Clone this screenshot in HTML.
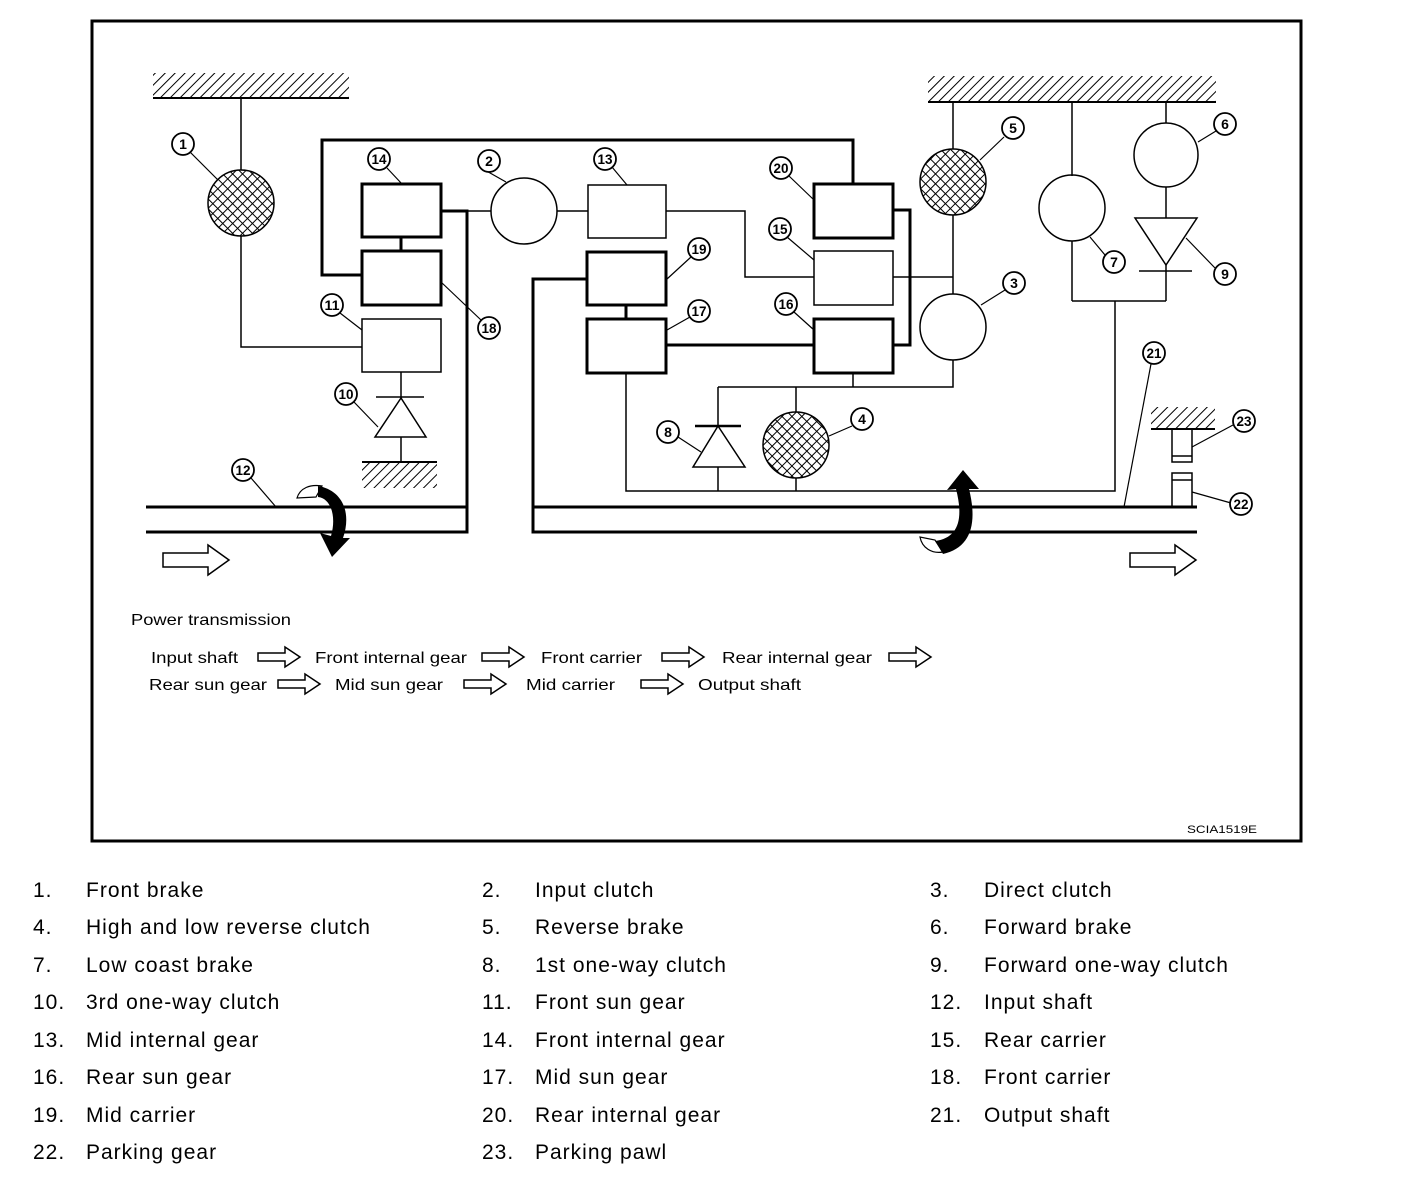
<!DOCTYPE html>
<html><head><meta charset="utf-8"><style>
html,body{margin:0;padding:0;background:#fff;}
svg{display:block;}
.lg{font-family:"Liberation Sans",sans-serif;font-size:21px;fill:#000;letter-spacing:1px;}
.sm{font-family:"Liberation Sans",sans-serif;font-size:16px;fill:#000;}
.n{font-family:"Liberation Sans",sans-serif;font-size:14px;font-weight:bold;fill:#000;text-anchor:middle;}
</style></head><body>
<svg width="1408" height="1204" viewBox="0 0 1408 1204" xmlns="http://www.w3.org/2000/svg">
<defs>
<pattern id="xh" width="7" height="7" patternUnits="userSpaceOnUse" patternTransform="rotate(45)">
<rect width="7" height="7" fill="#fff"/>
<line x1="0" y1="0" x2="0" y2="7" stroke="#000" stroke-width="2"/>
<line x1="0" y1="0" x2="7" y2="0" stroke="#000" stroke-width="2"/>
</pattern>
<pattern id="hh" width="7" height="7" patternUnits="userSpaceOnUse" patternTransform="rotate(45)">
<rect width="7" height="7" fill="#fff"/>
<line x1="0" y1="0" x2="0" y2="7" stroke="#000" stroke-width="2"/>
</pattern>
</defs>
<rect x="92" y="21" width="1209" height="820" fill="none" stroke="#000" stroke-width="3"/>

<g fill="none" stroke="#000" stroke-width="1.5">
<rect x="153" y="73" width="196" height="25" fill="url(#hh)" stroke="none"/>
<line x1="153" y1="98" x2="349" y2="98" stroke-width="2"/>
<rect x="928" y="76" width="288" height="25" fill="url(#hh)" stroke="none"/>
<line x1="928" y1="102" x2="1216" y2="102" stroke-width="2"/>
<rect x="362" y="462" width="75" height="26" fill="url(#hh)" stroke="none"/>
<line x1="362" y1="462" x2="437" y2="462" stroke-width="2"/>
<rect x="1151" y="407" width="64" height="21" fill="url(#hh)" stroke="none"/>
<line x1="1151" y1="429" x2="1215" y2="429" stroke-width="2"/>

<polyline points="241,98 241,170"/>
<polyline points="241,236 241,347 362,347"/>
<circle cx="241" cy="203" r="33" fill="url(#xh)"/>
<rect x="362" y="319" width="79" height="53"/>
<line x1="401" y1="372" x2="401" y2="398"/>
<line x1="376" y1="397" x2="424" y2="397"/>
<polygon points="401,398 375,437 426,437"/>
<line x1="401" y1="437" x2="401" y2="462"/>
<line x1="441" y1="211" x2="491" y2="211"/>
<circle cx="524" cy="211" r="33"/>
<line x1="557" y1="211" x2="588" y2="211"/>
<rect x="588" y="185" width="78" height="53"/>
<polyline points="666,211 745,211 745,277 814,277"/>
<rect x="814" y="251" width="79" height="54"/>
<line x1="893" y1="277" x2="953" y2="277"/>
<line x1="953" y1="102" x2="953" y2="149"/>
<line x1="953" y1="215" x2="953" y2="294"/>
<circle cx="953" cy="182" r="33" fill="url(#xh)"/>
<circle cx="953" cy="327" r="33"/>
<polyline points="953,360 953,387 718,387"/>
<line x1="853" y1="373" x2="853" y2="387"/>
<line x1="718" y1="387" x2="718" y2="426"/>
<line x1="695" y1="426" x2="741" y2="426" stroke-width="2.5"/>
<polygon points="718,426 693,467 745,467"/>
<line x1="718" y1="467" x2="718" y2="491"/>
<line x1="796" y1="387" x2="796" y2="412"/>
<circle cx="796" cy="445" r="33" fill="url(#xh)"/>
<line x1="796" y1="478" x2="796" y2="491"/>
<polyline points="626,373 626,491 1115,491 1115,301"/>
<line x1="1072" y1="301" x2="1166" y2="301"/>
<line x1="1072" y1="102" x2="1072" y2="176"/>
<circle cx="1072" cy="208" r="33"/>
<line x1="1072" y1="241" x2="1072" y2="301"/>
<line x1="1166" y1="102" x2="1166" y2="123"/>
<circle cx="1166" cy="155" r="32"/>
<line x1="1166" y1="187" x2="1166" y2="218"/>
<polygon points="1135,218 1197,218 1166,265"/>
<line x1="1139" y1="271" x2="1192" y2="271"/>
<line x1="1166" y1="265" x2="1166" y2="301"/>
<rect x="1172" y="429" width="20" height="33"/>
<line x1="1172" y1="456" x2="1192" y2="456"/>
<rect x="1172" y="473" width="20" height="34"/>
<line x1="1172" y1="480" x2="1192" y2="480"/>
</g>

<g fill="none" stroke="#000" stroke-width="3">
<rect x="362" y="184" width="79" height="53"/>
<rect x="362" y="251" width="79" height="54"/>
<line x1="401" y1="237" x2="401" y2="251"/>
<polyline points="853,184 853,140 322,140 322,275 362,275"/>
<polyline points="441,211 467,211 467,532 146,532"/>
<line x1="146" y1="507" x2="467" y2="507"/>
<rect x="814" y="184" width="79" height="54"/>
<rect x="814" y="319" width="79" height="54"/>
<polyline points="893,210 910,210 910,345 893,345"/>
<rect x="587" y="252" width="79" height="53"/>
<rect x="587" y="319" width="79" height="54"/>
<line x1="626" y1="305" x2="626" y2="319"/>
<line x1="666" y1="345" x2="814" y2="345"/>
<polyline points="587,279 533,279 533,532 1197,532"/>
<line x1="533" y1="507" x2="1197" y2="507"/>
</g>

<g stroke="#000" stroke-width="1.2">
<line x1="190" y1="152" x2="218" y2="180"/>
<line x1="387" y1="168" x2="402" y2="184"/>
<line x1="483" y1="169" x2="506" y2="182"/>
<line x1="340" y1="313" x2="362" y2="330"/>
<line x1="481" y1="320" x2="441" y2="282"/>
<line x1="354" y1="402" x2="378" y2="427"/>
<line x1="251" y1="478" x2="276" y2="507"/>
<line x1="612" y1="167" x2="627" y2="185"/>
<line x1="691" y1="257" x2="667" y2="279"/>
<line x1="690" y1="317" x2="667" y2="330"/>
<line x1="789" y1="176" x2="814" y2="200"/>
<line x1="787" y1="237" x2="814" y2="260"/>
<line x1="794" y1="312" x2="814" y2="330"/>
<line x1="1004" y1="137" x2="980" y2="160"/>
<line x1="1005" y1="290" x2="981" y2="305"/>
<line x1="678" y1="437" x2="701" y2="452"/>
<line x1="852" y1="426" x2="829" y2="436"/>
<line x1="1105" y1="255" x2="1090" y2="237"/>
<line x1="1216" y1="131" x2="1198" y2="142"/>
<line x1="1215" y1="268" x2="1186" y2="238"/>
<line x1="1151" y1="364" x2="1124" y2="507"/>
<line x1="1233" y1="425" x2="1192" y2="447"/>
<line x1="1231" y1="503" x2="1192" y2="492"/>
</g>
<g fill="#fff" stroke="#000" stroke-width="1.8">
<circle cx="183" cy="144" r="11"/><circle cx="379" cy="159" r="11"/><circle cx="489" cy="161" r="11"/>
<circle cx="332" cy="305" r="11"/><circle cx="489" cy="328" r="11"/><circle cx="346" cy="394" r="11"/>
<circle cx="243" cy="470" r="11"/><circle cx="605" cy="159" r="11"/><circle cx="699" cy="249" r="11"/>
<circle cx="699" cy="311" r="11"/><circle cx="781" cy="168" r="11"/><circle cx="780" cy="229" r="11"/>
<circle cx="786" cy="304" r="11"/><circle cx="1013" cy="128" r="11"/><circle cx="1014" cy="283" r="11"/>
<circle cx="668" cy="432" r="11"/><circle cx="862" cy="419" r="11"/><circle cx="1114" cy="262" r="11"/>
<circle cx="1225" cy="124" r="11"/><circle cx="1225" cy="274" r="11"/><circle cx="1154" cy="353" r="11"/>
<circle cx="1244" cy="421" r="11"/><circle cx="1241" cy="504" r="11"/>
</g>
<g class="n">
<text x="183" y="149">1</text><text x="379" y="164" textLength="15" lengthAdjust="spacingAndGlyphs">14</text><text x="489" y="166">2</text>
<text x="332" y="310" textLength="15" lengthAdjust="spacingAndGlyphs">11</text><text x="489" y="333" textLength="15" lengthAdjust="spacingAndGlyphs">18</text><text x="346" y="399" textLength="15" lengthAdjust="spacingAndGlyphs">10</text>
<text x="243" y="475" textLength="15" lengthAdjust="spacingAndGlyphs">12</text><text x="605" y="164" textLength="15" lengthAdjust="spacingAndGlyphs">13</text><text x="699" y="254" textLength="15" lengthAdjust="spacingAndGlyphs">19</text>
<text x="699" y="316" textLength="15" lengthAdjust="spacingAndGlyphs">17</text><text x="781" y="173" textLength="15" lengthAdjust="spacingAndGlyphs">20</text><text x="780" y="234" textLength="15" lengthAdjust="spacingAndGlyphs">15</text>
<text x="786" y="309" textLength="15" lengthAdjust="spacingAndGlyphs">16</text><text x="1013" y="133">5</text><text x="1014" y="288">3</text>
<text x="668" y="437">8</text><text x="862" y="424">4</text><text x="1114" y="267">7</text>
<text x="1225" y="129">6</text><text x="1225" y="279">9</text><text x="1154" y="358" textLength="15" lengthAdjust="spacingAndGlyphs">21</text>
<text x="1244" y="426" textLength="15" lengthAdjust="spacingAndGlyphs">23</text><text x="1241" y="509" textLength="15" lengthAdjust="spacingAndGlyphs">22</text>
</g>

<path d="M297,498 C300,488 310,484 322,486 L316,497 Z" fill="#fff" stroke="#000" stroke-width="1.2"/>
<path d="M318,486 C342,490 352,512 343,538 L350,538 L332,557 L320,533 L331,536 C337,515 330,498 318,497 Z" fill="#000"/>
<path d="M920,537 C922,548 932,554 943,552 L935,540 Z" fill="#fff" stroke="#000" stroke-width="1.2"/>
<path d="M943,554 C970,548 978,525 969,489 L979,489 L963,470 L947,490 L956,489 C964,520 958,538 935,541 Z" fill="#000"/>

<g fill="#fff" stroke="#000" stroke-width="1.5">
<polygon points="163,553 208,553 208,545 229,560 208,575 208,567 163,567"/>
<polygon points="1130,553 1175,553 1175,545 1196,560 1175,575 1175,567 1130,567"/>
<polygon points="258,653 285,653 285,647 300,657 285,667 285,661 258,661"/>
<polygon points="482,653 509,653 509,647 524,657 509,667 509,661 482,661"/>
<polygon points="662,653 689,653 689,647 704,657 689,667 689,661 662,661"/>
<polygon points="889,653 916,653 916,647 931,657 916,667 916,661 889,661"/>
<polygon points="278,680 305,680 305,674 320,684 305,694 305,688 278,688"/>
<polygon points="464,680 491,680 491,674 506,684 491,694 491,688 464,688"/>
<polygon points="641,680 668,680 668,674 683,684 668,694 668,688 641,688"/>
</g>

<g class="sm">
<text x="131" y="625" textLength="160" lengthAdjust="spacingAndGlyphs">Power transmission</text>
<text x="151" y="663" textLength="87" lengthAdjust="spacingAndGlyphs">Input shaft</text>
<text x="315" y="663" textLength="152" lengthAdjust="spacingAndGlyphs">Front internal gear</text>
<text x="541" y="663" textLength="101" lengthAdjust="spacingAndGlyphs">Front carrier</text>
<text x="722" y="663" textLength="150" lengthAdjust="spacingAndGlyphs">Rear internal gear</text>
<text x="149" y="690" textLength="118" lengthAdjust="spacingAndGlyphs">Rear sun gear</text>
<text x="335" y="690" textLength="108" lengthAdjust="spacingAndGlyphs">Mid sun gear</text>
<text x="526" y="690" textLength="89" lengthAdjust="spacingAndGlyphs">Mid carrier</text>
<text x="698" y="690" textLength="103" lengthAdjust="spacingAndGlyphs">Output shaft</text>
<text x="1187" y="833" font-size="11" textLength="70" lengthAdjust="spacingAndGlyphs">SCIA1519E</text>
</g>

<g class="lg">
<text x="33" y="897">1.</text><text x="86" y="897">Front brake</text>
<text x="482" y="897">2.</text><text x="535" y="897">Input clutch</text>
<text x="930" y="897">3.</text><text x="984" y="897">Direct clutch</text>
<text x="33" y="934">4.</text><text x="86" y="934">High and low reverse clutch</text>
<text x="482" y="934">5.</text><text x="535" y="934">Reverse brake</text>
<text x="930" y="934">6.</text><text x="984" y="934">Forward brake</text>
<text x="33" y="972">7.</text><text x="86" y="972">Low coast brake</text>
<text x="482" y="972">8.</text><text x="535" y="972">1st one-way clutch</text>
<text x="930" y="972">9.</text><text x="984" y="972">Forward one-way clutch</text>
<text x="33" y="1009">10.</text><text x="86" y="1009">3rd one-way clutch</text>
<text x="482" y="1009">11.</text><text x="535" y="1009">Front sun gear</text>
<text x="930" y="1009">12.</text><text x="984" y="1009">Input shaft</text>
<text x="33" y="1047">13.</text><text x="86" y="1047">Mid internal gear</text>
<text x="482" y="1047">14.</text><text x="535" y="1047">Front internal gear</text>
<text x="930" y="1047">15.</text><text x="984" y="1047">Rear carrier</text>
<text x="33" y="1084">16.</text><text x="86" y="1084">Rear sun gear</text>
<text x="482" y="1084">17.</text><text x="535" y="1084">Mid sun gear</text>
<text x="930" y="1084">18.</text><text x="984" y="1084">Front carrier</text>
<text x="33" y="1122">19.</text><text x="86" y="1122">Mid carrier</text>
<text x="482" y="1122">20.</text><text x="535" y="1122">Rear internal gear</text>
<text x="930" y="1122">21.</text><text x="984" y="1122">Output shaft</text>
<text x="33" y="1159">22.</text><text x="86" y="1159">Parking gear</text>
<text x="482" y="1159">23.</text><text x="535" y="1159">Parking pawl</text>
</g>
</svg>
</body></html>
